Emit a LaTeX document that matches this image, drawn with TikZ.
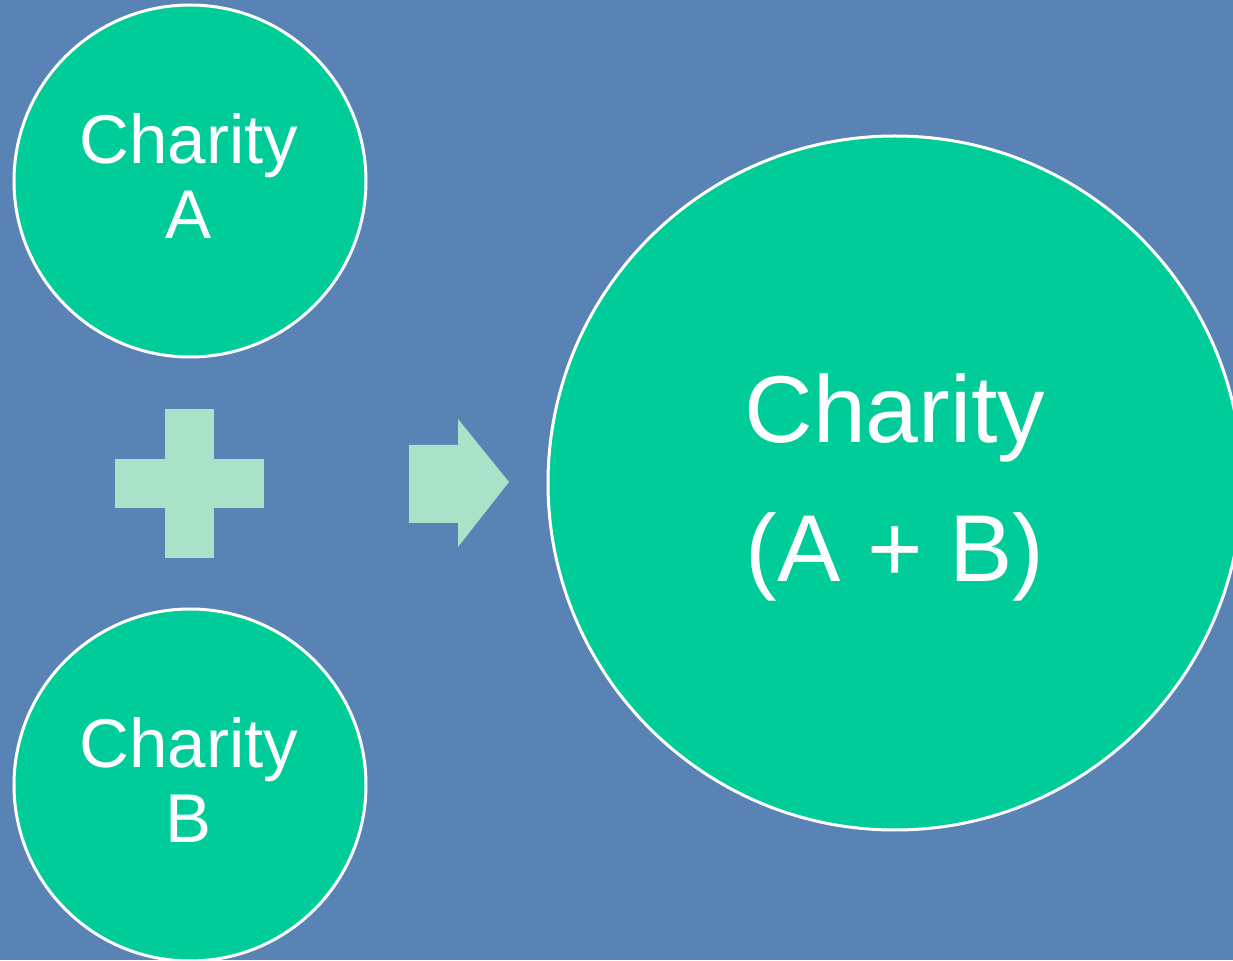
\documentclass[tikz,border=0pt]{standalone}
\usepackage{fontspec}
\setmainfont{Liberation Sans}
\definecolor{slideblue}{RGB}{89,130,181}
\definecolor{charitygreen}{RGB}{0,204,153}
\definecolor{palegreen}{RGB}{168,226,200}

\tikzstyle{charity}=[circle, draw=white, line width=1.5pt, fill=charitygreen, inner sep=0pt]
\tikzstyle{small}=[text=white, align=center, inner sep=0pt, font=\fontsize{34.5}{37.5}\selectfont]
\tikzstyle{big}=[text=white, align=center, inner sep=0pt, font=\fontsize{47.5}{69.5}\selectfont]
\tikzstyle{sign}=[fill=palegreen, draw=none]

\begin{document}
\begin{tikzpicture}[x=0.5pt, y=0.5pt]
    \fill[slideblue] (0, 0) rectangle (1233, 960);
    \useasboundingbox (0, 0) rectangle (1233, 960);

    \node[charity, minimum size=176pt] (ca) at (190, 779) {};
    \node[charity, minimum size=176pt] (cb) at (190, 175) {};
    \node[charity, minimum size=347pt] (cab) at (895, 477) {};

    \node[small] (ta) at (189, 783.5) {Charity\\A};
    \node[small] (tb) at (189, 180) {Charity\\B};
    \node[big] (tab) at (895, 472.5) {Charity\\(A + B)};

    \fill[sign] (165, 402) rectangle (214, 551);
    \fill[sign] (115, 452) rectangle (264, 501);
    \fill[sign] (409, 437) -- (458, 437) -- (458, 413) -- (509, 478)
        -- (458, 541) -- (458, 515) -- (409, 515) -- cycle;
  \end{tikzpicture}
\end{document}
